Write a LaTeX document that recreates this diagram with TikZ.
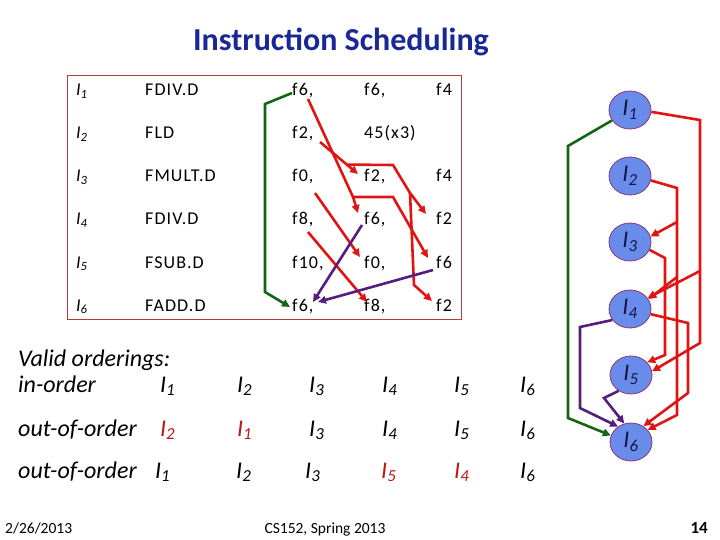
\documentclass[tikz,border=0pt]{standalone}
\usepackage{fontspec}
\setmainfont{Carlito}
\usetikzlibrary{shapes.geometric,arrows.meta,calc}
\definecolor{titleblue}{RGB}{25,40,150}
\definecolor{dred}{RGB}{225,20,20}
\definecolor{dgreen}{RGB}{20,100,20}
\definecolor{dpurple}{RGB}{85,30,125}
\definecolor{boxred}{RGB}{180,60,60}
\definecolor{nodefill}{RGB}{105,140,235}
\definecolor{nodeedge}{RGB}{140,50,110}
\definecolor{ordred}{RGB}{190,20,20}
\definecolor{navy}{RGB}{20,20,70}
\begin{document}
\begin{tikzpicture}[x=1pt,y=-1pt,
  cell/.style={anchor=base west, inner sep=0pt, font=\fontsize{18}{18}\selectfont\addfontfeature{LetterSpace=6}},
  icell/.style={anchor=base west, inner sep=0pt, font=\fontsize{18}{18}\selectfont\itshape},
  ord/.style={anchor=base west, inner sep=0pt, font=\fontsize{24}{24}\selectfont\itshape},
  ordr/.style={ord, text=ordred},
  foot/.style={anchor=base, inner sep=0pt, font=\fontsize{15.5}{15.5}\selectfont},
  gnode/.style={ellipse, draw=nodeedge, line width=0.8pt, fill=nodefill, minimum width=42pt, minimum height=38pt, inner sep=0pt, text=navy, font=\fontsize{24}{24}\selectfont\itshape},
  tip/.style={-{Triangle[length=8pt,width=7.5pt]}},
  rl/.style={draw=dred, line width=2.6pt, line join=miter},
  gl/.style={draw=dgreen, line width=2.6pt},
  pl/.style={draw=dpurple, line width=2.6pt}
]
\useasboundingbox (0,0) rectangle (720,540);
% title
\node[font=\fontsize{32}{32}\selectfont\bfseries, text=titleblue, anchor=base] (title) at (341,51) {Instruction Scheduling};
% table frame
\node[draw=boxred, line width=0.8pt, minimum width=394pt, minimum height=244pt, anchor=north west, inner sep=0pt] (frame) at (67,75) {};
% rows
\node[icell] (r1i) at (76,96) {I\textsubscript{1}};
\node[cell] (r1o) at (145,96) {FDIV.D};
\node[cell] (r1a) at (292,96) {f6,};
\node[cell] (r1b) at (364,96) {f6,};
\node[cell] (r1c) at (436,96) {f4};
\node[icell] (r2i) at (76,139) {I\textsubscript{2}};
\node[cell] (r2o) at (145,139) {FLD};
\node[cell] (r2a) at (292,139) {f2,};
\node[cell] (r2b) at (364,139) {45(x3)};
\node[icell] (r3i) at (76,182) {I\textsubscript{3}};
\node[cell] (r3o) at (145,182) {FMULT.D};
\node[cell] (r3a) at (292,182) {f0,};
\node[cell] (r3b) at (364,182) {f2,};
\node[cell] (r3c) at (436,182) {f4};
\node[icell] (r4i) at (76,225) {I\textsubscript{4}};
\node[cell] (r4o) at (145,225) {FDIV.D};
\node[cell] (r4a) at (292,225) {f8,};
\node[cell] (r4b) at (364,225) {f6,};
\node[cell] (r4c) at (436,225) {f2};
\node[icell] (r5i) at (76,268) {I\textsubscript{5}};
\node[cell] (r5o) at (145,268) {FSUB.D};
\node[cell] (r5a) at (292,268) {f10,};
\node[cell] (r5b) at (364,268) {f0,};
\node[cell] (r5c) at (436,268) {f6};
\node[icell] (r6i) at (76,311) {I\textsubscript{6}};
\node[cell] (r6o) at (145,311) {FADD.D};
\node[cell] (r6a) at (292,311) {f6,};
\node[cell] (r6b) at (364,311) {f8,};
\node[cell] (r6c) at (436,311) {f2};
% table arrows
\coordinate (ga) at (292,93); \coordinate (gb) at (290,307);
\draw[gl,tip] (ga) -- (265,104) -- (265,292) -- (gb);
\coordinate (a0) at (308,99); \coordinate (a1) at (353,197);
\draw[rl,tip] (a0) -- (a1) -- (358,213);
\draw[rl,tip] (a1) -- (393,197) -- (428,258);
\coordinate (b0) at (320,142); \coordinate (b1) at (347,164.6); \coordinate (b2) at (410,193);
\draw[rl,tip] (b0) -- (358,174);
\draw[rl] (b1) -- (393,165) -- (b2);
\draw[rl,tip] (b2) -- (426,214);
\draw[rl,tip] (b2) -- (414,285) -- (432,301);
\draw[rl,tip] (315,193) -- (360,257);
\draw[rl,tip] (308,232) -- (367,302);
\draw[pl,tip] (362,225) -- (313,302);
\draw[pl,tip] (433,270) -- (318,302);
% graph nodes
\node[gnode] (n1) at (630,110) {I\textsubscript{1}};
\node[gnode] (n2) at (630,176) {I\textsubscript{2}};
\node[gnode] (n3) at (630,242) {I\textsubscript{3}};
\node[gnode] (n4) at (630,309) {I\textsubscript{4}};
\node[gnode] (n5) at (631,375) {I\textsubscript{5}};
\node[gnode] (n6) at (631,442) {I\textsubscript{6}};
% graph edges
\draw[gl,tip] (n1.210) -- (568,146) -- (568,418) -- (n6.162);
\draw[rl,tip] (n1.-5) -- (700,120) -- (700,343) -- (n5.10);
\draw[rl,tip] (700,271) -- (n4.32);
\draw[rl,tip] (n2.-12) -- (677,188) -- (677,415) -- (n6.36);
\draw[rl,tip] (677,222) -- (n3.15);
\draw[rl,tip] (677,277) -- (n4.28);
\draw[rl,tip] (n3.-22) -- (665,258) -- (665,355) -- (n5.38);
\draw[rl,tip] (n4.-14) -- (688,323) -- (688,393) -- (n6.52);
\draw[pl,tip] (n4.212) -- (580,327) -- (580,408) -- (n6.130);
\draw[pl,tip] (n5.232) -- (604,398) -- (n6.110);
% orderings
\node[ord] (vo) at (18,366) {Valid orderings:};
\node[ord] (l1) at (18,392) {in-order};
\node[ord] (l2) at (18,436) {out-of-order};
\node[ord] (l3) at (18,478) {out-of-order};
\node[ord] (o11) at (160,392) {I\textsubscript{1}};
\node[ord] (o12) at (237,392) {I\textsubscript{2}};
\node[ord] (o13) at (309,392) {I\textsubscript{3}};
\node[ord] (o14) at (382,392) {I\textsubscript{4}};
\node[ord] (o15) at (454,392) {I\textsubscript{5}};
\node[ord] (o16) at (520,392) {I\textsubscript{6}};
\node[ordr] (o21) at (160,436) {I\textsubscript{2}};
\node[ordr] (o22) at (237,436) {I\textsubscript{1}};
\node[ord] (o23) at (309,436) {I\textsubscript{3}};
\node[ord] (o24) at (382,436) {I\textsubscript{4}};
\node[ord] (o25) at (454,436) {I\textsubscript{5}};
\node[ord] (o26) at (520,436) {I\textsubscript{6}};
\node[ord] (o31) at (155,478) {I\textsubscript{1}};
\node[ord] (o32) at (236,478) {I\textsubscript{2}};
\node[ord] (o33) at (305,478) {I\textsubscript{3}};
\node[ordr] (o34) at (381,478) {I\textsubscript{5}};
\node[ordr] (o35) at (454,478) {I\textsubscript{4}};
\node[ord] (o36) at (520,478) {I\textsubscript{6}};
% footer
\node[foot, anchor=base west] (date) at (5,533) {2/26/2013};
\node[foot] (course) at (325,533) {CS152, Spring 2013};
\node[foot, anchor=base east, font=\fontsize{17}{17}\selectfont\bfseries] (page) at (708,533) {14};
\end{tikzpicture}
\end{document}
